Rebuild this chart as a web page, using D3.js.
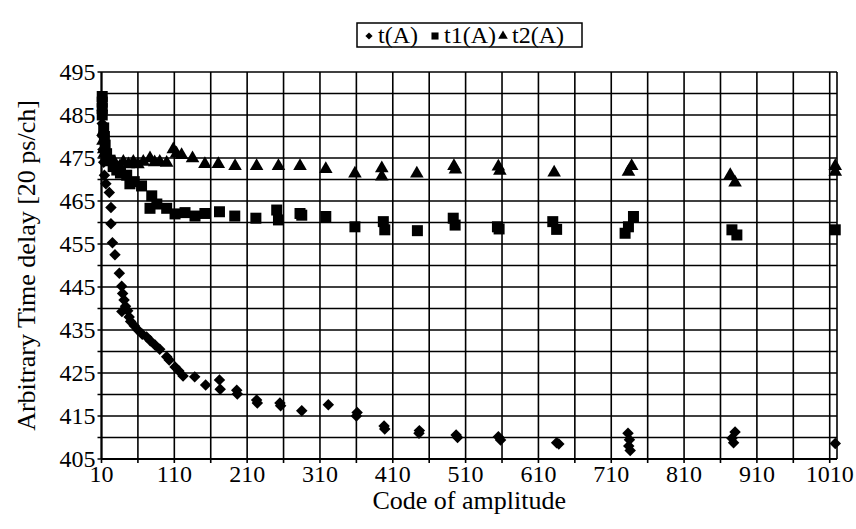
<!DOCTYPE html>
<html>
<head>
<meta charset="utf-8">
<script src="https://cdn.jsdelivr.net/npm/d3@7"></script>
<style>
  body { margin: 0; background: #fff; }
</style>
</head>
<body>
<svg id="chart" width="856" height="529"></svg>
<script>
// t(A) - diamonds
const tA = [[11,486],[11,483],[12,480],[12,477],[13,474],[14,471],[16,469],[20.7,467],[23,463.5],[23,459.7],
  [25,455.3],[28.5,452.5],[34.5,448.2],[37.7,445.2],[39,443.5],[41,442],[43,440.5],[38,439.3],[46,439.5],
  [48,438],[50,437],[55,436],[60,435],[66,434],[72,433.4],[77,432.5],[83.5,431.5],[90,430.5],[99.5,428.8],
  [103,428],[111,426.4],[116,425.5],[122,424.3],[138,424.1],[153,422.2],[172,423.4],[173,421.2],[195.7,421],
  [196.5,420.1],[223,418.7],[224,418],[255,418],[256,417.4],[285,416.2],[321.5,417.6],[361,415.8],[360,415],
  [398,412.7],[399,412],[446.5,411.6],[446,411],[497,410.6],[499,410],[555,410.2],[558,409.4],[635,408.8],
  [638,408.5],[733,411],[735,409.5],[734,408],[736,407],[875.7,409.8],[880,411.3],[878,408.8],[1017.6,408.6]];

// t1(A) - squares
const t1A = [[11,489.3],[11,488],[11,486.5],[11,485],[13,482],[14,480],[15,478],[17,476],[21.7,474.5],[26,473],
  [31,472.2],[36,471.5],[44.6,471],[49,469],[55,469.5],[65,468.5],[79,466.2],[86,464.3],[76.6,463.3],[99.5,463.3],
  [111,462],[124.7,462.3],[138.4,461.5],[152,462.1],[172,462.5],[193,461.5],[222,461],[250.6,462.9],[253,460.6],
  [282.6,462.1],[285,461.7],[318,461.4],[358,459],[397,460.2],[399,458.3],[443.8,458.1],[493,461],[495.6,459.4],
  [553.7,459],[556,458.5],[629.7,460.2],[635,458.4],[740.5,461.4],[733.6,459],[729,457.5],[875.7,458.3],
  [882.5,457.1],[1017.6,458.3]];

// t2(A) - triangles
const t2A = [[12,481],[12,479],[13,477],[14,476],[17,475.3],[22,474],[28.5,473.8],[35,473],[40,474.1],[47,473.5],
  [53.7,474.1],[60,473.5],[67.4,474.1],[76.6,474.9],[83,474],[90,474.1],[99.5,473.9],[108.6,477],[113,476],
  [120,475.7],[135,474.9],[152,473.6],[170.4,473.6],[193.4,473.1],[223,473.1],[253,473.1],[282.6,473.1],
  [318,472.4],[358,471.4],[394.9,472.6],[394.9,470.7],[443,471.4],[494,473.1],[496,472.3],[555,473],[557,472],
  [631.6,471.6],[733.6,471.8],[738,473.1],[873.4,471],[880,469.3],[1017.6,471.8],[1017.6,473.1]];

const xTicks = d3.range(10, 1011, 100);
const xGrid = d3.range(10, 1011, 50).concat([1020]);
const yTicks = d3.range(405, 496, 10);
const yGrid = d3.range(405, 496, 5);
const seriesNames = ["t(A)", "t1(A)", "t2(A)"];

const font = "'Liberation Serif', 'Times New Roman', Times, 'DejaVu Serif', serif";

const svg = d3.select("#chart").attr("font-family", font);
const margin = { top: 72, right: 19, bottom: 70, left: 101.5 };
const width = 856 - margin.left - margin.right;
const height = 529 - margin.top - margin.bottom;

const g = svg.append("g")
  .attr("transform", "translate(" + margin.left + "," + margin.top + ")");

const x = d3.scaleLinear().domain([10, 1020]).range([0, width]);
const y = d3.scaleLinear().domain([405, 495]).range([height, 0]);

// grid
g.append("g").selectAll("line").data(yGrid).join("line")
  .attr("x1", -4).attr("x2", width)
  .attr("y1", d => y(d)).attr("y2", d => y(d))
  .attr("stroke", "#000").attr("stroke-width", 1.6);
g.append("g").selectAll("line").data(xGrid).join("line")
  .attr("x1", d => x(d)).attr("x2", d => x(d))
  .attr("y1", 0).attr("y2", d => d === 1020 ? height : height + 4)
  .attr("stroke", "#000").attr("stroke-width", 1.6);

// axes
g.append("line").attr("x1", 0).attr("x2", 0).attr("y1", 0).attr("y2", height)
  .attr("stroke", "#000").attr("stroke-width", 2);
g.append("line").attr("x1", 0).attr("x2", width).attr("y1", height).attr("y2", height)
  .attr("stroke", "#000").attr("stroke-width", 2);

// tick labels
g.append("g").selectAll("text").data(yTicks).join("text")
  .attr("x", -6).attr("y", d => y(d)).attr("dy", "0.32em")
  .attr("text-anchor", "end").attr("font-size", 24)
  .text(d => d);
g.append("g").selectAll("text").data(xTicks).join("text")
  .attr("x", d => x(d)).attr("y", height + 23)
  .attr("text-anchor", "middle").attr("font-size", 24)
  .text(d => d);

// axis titles
svg.append("text")
  .attr("x", margin.left + width / 2).attr("y", 509)
  .attr("text-anchor", "middle").attr("font-size", 26)
  .text("Code of amplitude");
svg.append("text")
  .attr("transform", "translate(35," + (margin.top + height / 2) + ") rotate(-90)")
  .attr("text-anchor", "middle").attr("font-size", 26)
  .text("Arbitrary Time delay [20 ps/ch]");

// markers (diamond = rotated square)
const symbols = [
  d3.symbol().type(d3.symbolSquare).size(66),
  d3.symbol().type(d3.symbolSquare).size(121),
  d3.symbol().type(d3.symbolTriangle).size(80)
];
const rot = [45, 0, 0];
[tA, t1A, t2A].forEach((data, i) => {
  g.append("g").selectAll("path").data(data).join("path")
    .attr("transform", d => "translate(" + x(d[0]) + "," + y(d[1]) + ") rotate(" + rot[i] + ")")
    .attr("d", symbols[i])
    .attr("fill", "#000");
});

// legend
const legend = svg.append("g").attr("transform", "translate(357,23)");
legend.append("rect").attr("width", 225).attr("height", 24)
  .attr("fill", "#fff").attr("stroke", "#000").attr("stroke-width", 1.5);
const legSmall = [
  d3.symbol().type(d3.symbolSquare).size(26),
  d3.symbol().type(d3.symbolSquare).size(50),
  d3.symbol().type(d3.symbolTriangle).size(40)
];
const legPos = [[12, 21], [78, 87], [146, 155]];
seriesNames.forEach((name, i) => {
  legend.append("path")
    .attr("transform", "translate(" + legPos[i][0] + ",13) rotate(" + rot[i] + ")")
    .attr("d", legSmall[i]).attr("fill", "#000");
  legend.append("text")
    .attr("x", legPos[i][1]).attr("y", 20)
    .attr("font-size", 24)
    .text(name);
});
</script>
</body>
</html>
